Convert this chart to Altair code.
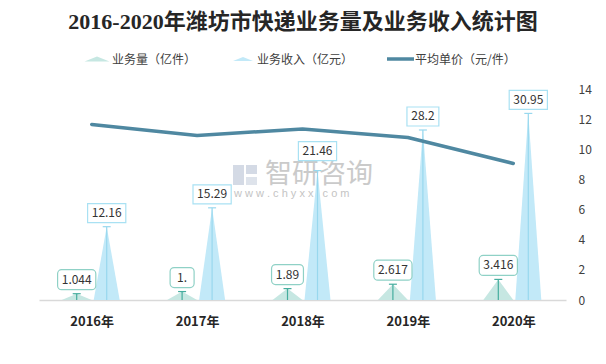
import altair as alt
import pandas as pd

# ---- data ----
years = ["2016", "2017", "2018", "2019", "2020"]
volume = [1.044, 1.40, 1.89, 2.617, 3.416]          # 业务量（亿件）
volume_labels = ["1.044", "1.", "1.89", "2.617", "3.416"]
revenue = [12.16, 15.29, 21.46, 28.2, 30.95]         # 业务收入（亿元）
revenue_labels = ["12.16", "15.29", "21.46", "28.2", "30.95"]
price = [11.65, 10.92, 11.35, 10.78, 9.06]           # 平均单价（元/件）

# ---- styling ----
FONT = "Noto Sans CJK SC"
VOL_FILL, VOL_LINE, VOL_BOX = "#c6e7e2", "#45ad9e", "#8fd1c6"
REV_FILL, REV_LINE, REV_BOX = "#c2e9f8", "#98d8ee", "#a9e1f3"
LINE_COLOR = "#4f88a1"
BAND_PX = 527 / 5
EXTRA_LIFT = {"rev2": 6}   # label of 2018 revenue sits a bit higher in the reference

def px(v):
    return v / BAND_PX

series = [
    ("vol", volume, volume_labels, -px(15), px(15)),
    ("rev", revenue, revenue_labels, px(15), px(13)),
]

tri_rows, mark_rows = [], []
for key, vals, labs, off, hw in series:
    for i, (v, lab) in enumerate(zip(vals, labs)):
        xc = i + off
        gid = f"{key}{i}"
        tri_rows += [
            {"s": key, "g": gid, "x": xc - hw, "y": 0.0},
            {"s": key, "g": gid, "x": xc, "y": v},
            {"s": key, "g": gid, "x": xc + hw, "y": 0.0},
        ]
        digits = sum(c.isdigit() for c in lab)
        dots = lab.count(".")
        bw = max(digits * 6.3 + dots * 3.0 + 10, 24)
        mark_rows.append({
            "s": key, "g": gid, "xc": xc, "v": v, "label": lab, "zero": 0.0,
            "cap0": xc - px(4), "cap1": xc + px(4),
            "b0": xc - px(bw / 2), "b1": xc + px(bw / 2),
            "lift": EXTRA_LIFT.get(gid, 0),
        })

tri = pd.DataFrame(tri_rows)
mk = pd.DataFrame(mark_rows)
line_df = pd.DataFrame({"x": list(range(5)), "price": price, "year": years})

label_expr = ("datum.value == 0 ? '2016年' : datum.value == 1 ? '2017年' : "
              "datum.value == 2 ? '2018年' : datum.value == 3 ? '2019年' : '2020年'")
x_axis = alt.Axis(values=[0, 1, 2, 3, 4], labelExpr=label_expr, title=None, grid=False,
                  ticks=False, domainColor="#d9d9d9", domainWidth=1.5, labelFontWeight="bold",
                  labelFontSize=13, labelColor="#262626", labelPadding=15, labelFont=FONT)
x_scale = alt.Scale(domain=[-0.5, 4.5], nice=False, zero=False)
y_scale = alt.Scale(domain=[0, 35], nice=False)

def X(field):
    return alt.X(f"{field}:Q", scale=x_scale, axis=x_axis)

def Y(field):
    return alt.Y(f"{field}:Q", scale=y_scale, axis=None, stack=None)

one = alt.Data(values=[{}])
layers = []

# watermark (drawn first, under everything)
layers.append(alt.Chart(one).mark_rect(color="#c9d1de", opacity=0.8).encode(
    x=alt.value(194), x2=alt.value(205), y=alt.value(76), y2=alt.value(96)))
layers.append(alt.Chart(one).mark_rect(color="#c9d1de", opacity=0.8).encode(
    x=alt.value(207), x2=alt.value(218), y=alt.value(76), y2=alt.value(85)))
layers.append(alt.Chart(one).mark_rect(color="#d6dce6", opacity=0.8).encode(
    x=alt.value(207), x2=alt.value(218), y=alt.value(88), y2=alt.value(96)))
layers.append(alt.Chart(one).mark_text(text="智研咨询", font=FONT, fontSize=27, color="#bdbdbd",
                                       opacity=0.8, align="left", baseline="middle").encode(
    x=alt.value(226), y=alt.value(86)))
layers.append(alt.Chart(one).mark_text(text="w w w . c h y x x . c o m", font="Liberation Sans",
                                       fontSize=11, color="#c4c4c4", align="left",
                                       baseline="middle").encode(
    x=alt.value(195), y=alt.value(105)))

# triangles (one area per triangle)
for key, fill in (("vol", VOL_FILL), ("rev", REV_FILL)):
    sub = tri[tri.s == key]
    for gid in sub.g.unique():
        layers.append(
            alt.Chart(sub[sub.g == gid]).mark_area(color=fill, opacity=1, interpolate="linear",
                                                   orient="vertical")
            .encode(x=X("x"), y=Y("y"))
        )

# center lines, caps
for key, lc in (("vol", VOL_LINE), ("rev", REV_LINE)):
    base = alt.Chart(mk[mk.s == key])
    layers.append(base.mark_rule(color=lc, strokeWidth=1.2).encode(
        x=X("xc"), y=Y("v"), y2=alt.Y2("zero")))
    layers.append(base.mark_rule(color=lc, strokeWidth=1.2).encode(
        x=X("cap0"), x2=alt.X2("cap1"), y=Y("v")))

# price line on right axis
layers.append(
    alt.Chart(line_df).mark_line(color=LINE_COLOR, strokeWidth=3.5, interpolate="linear",
                                 strokeCap="round", strokeJoin="round")
    .encode(
        x=X("x"),
        y=alt.Y("price:Q", scale=alt.Scale(domain=[0, 14], nice=False),
                axis=alt.Axis(orient="right", values=list(range(0, 15, 2)), title=None,
                              grid=False, domain=False, ticks=False, labelPadding=12,
                              labelFontSize=12, labelColor="#404040", labelFont=FONT)),
    )
)

# label boxes and texts
for key, bc, rad, bh in (("vol", VOL_BOX, 4, 20), ("rev", REV_BOX, 0, 19)):
    sub = mk[mk.s == key]
    for lift in sorted(sub.lift.unique()):
        d = sub[sub.lift == lift]
        base = alt.Chart(d)
        layers.append(base.mark_rect(fill="white", stroke=bc, strokeWidth=1.2, cornerRadius=rad,
                                     yOffset=-4 - lift, y2Offset=-4 - lift - bh).encode(
            x=X("b0"), x2=alt.X2("b1"), y=Y("v"), y2=alt.Y2("v")))
        layers.append(base.mark_text(font=FONT, fontSize=12, color="#333333", baseline="middle",
                                     align="center", dy=-4 - lift - bh / 2).encode(
            x=X("xc"), y=Y("v"), text="label:N"))

# title
layers.append(alt.Chart(one).mark_text(
    text="2016-2020年潍坊市快递业务量及业务收入统计图",
    font="Liberation Serif, Noto Sans CJK SC", fontSize=22, fontWeight="bold",
    color="#262626", align="center", baseline="middle").encode(
    x=alt.value(264), y=alt.value(-67)))

# legend
tri_path = "M-1,0.2L0,-0.2L1,0.2Z"
layers.append(alt.Chart(one).mark_point(shape=tri_path, size=625, filled=True, color=VOL_FILL,
                                        strokeWidth=0, opacity=1).encode(
    x=alt.value(58), y=alt.value(-30)))
layers.append(alt.Chart(one).mark_point(shape=tri_path, size=400, filled=True, color=REV_FILL,
                                        strokeWidth=0, opacity=1).encode(
    x=alt.value(204), y=alt.value(-30)))
layers.append(alt.Chart(one).mark_rule(color=LINE_COLOR, strokeWidth=3.5).encode(
    x=alt.value(348), x2=alt.value(375), y=alt.value(-30)))
for xpos, txt in ((73, "业务量（亿件）"), (218, "业务收入（亿元）"), (376, "平均单价（元/件）")):
    layers.append(alt.Chart(one).mark_text(text=txt, font=FONT, fontSize=12, color="#404040",
                                           align="left", baseline="middle").encode(
        x=alt.value(xpos), y=alt.value(-29)))

chart = (
    alt.layer(*layers)
    .resolve_scale(y="independent")
    .properties(
        width=527, height=211,
        padding={"left": 31, "top": 81, "right": 32, "bottom": 56},
        autosize=alt.AutoSizeParams(type="none"),
        background="white",
    )
    .configure_view(stroke=None)
)

chart.save("out.html", embed_options={"renderer": "svg", "actions": False})
